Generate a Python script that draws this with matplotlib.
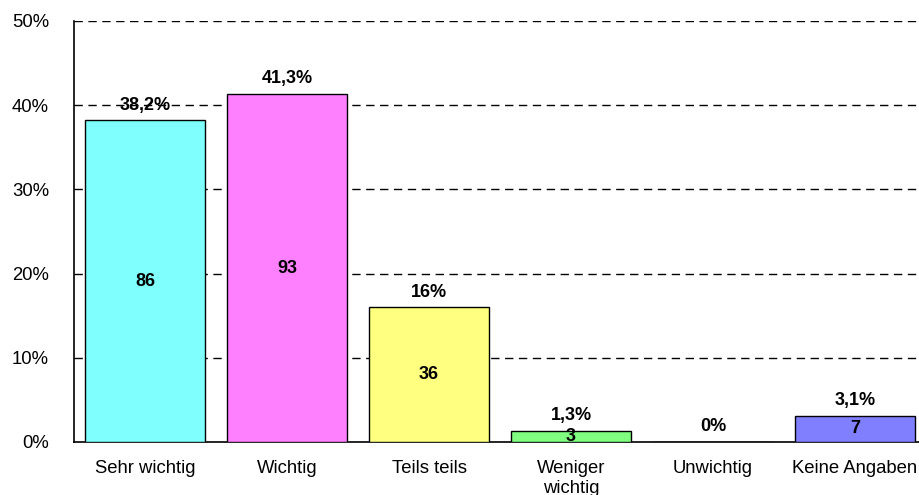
import numpy as np
import matplotlib.pyplot as plt

plt.rcParams['font.family'] = ['Liberation Sans', 'DejaVu Sans']

categories = ['Sehr wichtig', 'Wichtig', 'Teils teils', 'Weniger\nwichtig', 'Unwichtig', 'Keine Angaben']
percents = [38.2, 41.3, 16.0, 1.3, 0.0, 3.1]
pct_labels = ['38,2%', '41,3%', '16%', '1,3%', '0%', '3,1%']
counts = [86, 93, 36, 3, 0, 7]
colors = ['#80FFFF', '#FF80FF', '#FFFF80', '#80FF80', '#FFFFFF', '#8080FF']

fig = plt.figure(figsize=(9.2, 4.95), dpi=100)
ax = fig.add_axes([74 / 920, 53 / 495, 852 / 920, 421 / 495])

x = np.arange(len(categories))
ax.bar(x, percents, width=0.85, color=colors, edgecolor='black', linewidth=1, zorder=3)

ax.set_xlim(-0.5, len(categories) - 0.5)
ax.set_ylim(0, 50)
ax.set_yticks([0, 10, 20, 30, 40, 50])
ax.set_yticklabels(['0%', '10%', '20%', '30%', '40%', '50%'])
ax.set_xticks(x)
ax.set_xticklabels(categories, linespacing=1.2)
ax.tick_params(length=0, labelsize=13.3)
ax.tick_params(axis='y', pad=18)
ax.tick_params(axis='x', pad=13)

# dashed grid lines
for y in [10, 20, 30, 40, 50]:
    ax.axhline(y, color='black', linestyle=(0, (6, 4)), linewidth=1.0, zorder=1)

for s in ['top', 'right']:
    ax.spines[s].set_visible(False)
ax.spines['left'].set_linewidth(1.2)
ax.spines['bottom'].set_linewidth(1.2)

for xi, p, pl, c in zip(x, percents, pct_labels, counts):
    ax.annotate(pl, (xi, p), xytext=(0, 11), textcoords='offset points',
                ha='center', va='center', fontweight='bold', fontsize=13, zorder=5)
    if c > 0:
        ax.text(xi, p / 2, str(c), ha='center', va='center', fontweight='bold', fontsize=13, zorder=5)

fig.savefig('out.png', dpi=100)
